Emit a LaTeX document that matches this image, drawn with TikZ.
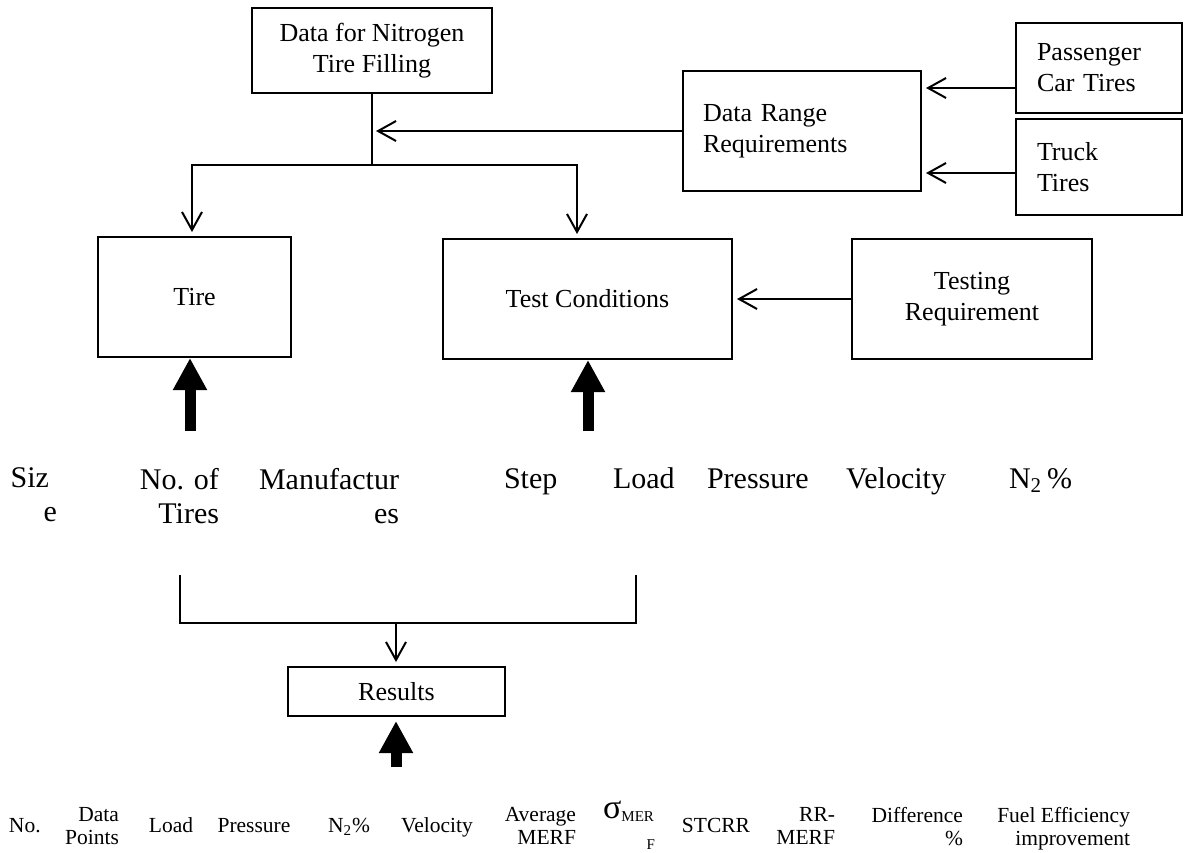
\documentclass[tikz,border=0pt]{standalone}
\usepackage{fontspec}
\setmainfont{Liberation Serif}
\usepackage{tikz}
\usetikzlibrary{positioning, arrows.meta}

\begin{document}
\begin{tikzpicture}[x=0.5pt, y=-0.5pt, line width=1pt]
        \tikzstyle{box}=[draw, rectangle, inner sep=0pt, align=center, font=\fontsize{13}{15.5}\selectfont];
        \tikzstyle{lbl}=[inner sep=0pt, font=\fontsize{15}{17}\selectfont];
        \tikzstyle{cell}=[inner sep=0pt, font=\fontsize{10.75}{11.5}\selectfont];
        \tikzstyle{arr}=[-{Straight Barb[length=9pt, width=10pt]}, shorten >=2pt];
        \tikzstyle{fat}=[line width=5.5pt, -{Triangle[length=16pt, width=16pt]}];
        \useasboundingbox (0,0) rectangle (1188,852);

        % boxes
        \node[box, minimum width=120pt, minimum height=42.5pt] (nitro) at (372,50.5) {Data for Nitrogen\\Tire Filling};
        \node[box, align=left, text width=99pt, inner xsep=10pt, minimum height=60pt] (range) at (802,131) {Data Range\\Requirements};
        \node[box, align=left, text width=62pt, inner xsep=10.5pt, minimum height=45pt] (pass) at (1099,68) {Passenger\\Car Tires};
        \node[box, align=left, text width=62pt, inner xsep=10.5pt, minimum height=48pt] (truck) at (1099,167) {Truck\\Tires};
        \node[box, minimum width=96.5pt, minimum height=60pt] (tire) at (194.5,297) {Tire};
        \node[box, minimum width=144.5pt, minimum height=60pt] (test) at (587.5,299) {Test Conditions};
        \node[box, minimum width=120pt, minimum height=60pt] (testing) at (972,299) {Testing\\Requirement};
        \node[box, minimum width=108.5pt, minimum height=24.5pt] (results) at (396.5,691.5) {Results};

        % tire and test inputs
        \node[lbl, align=right, anchor=north east] (size) at (58,467) {Siz\kern4pt\\e};
        \node[lbl, align=right, anchor=north east] (tirecount) at (220,467) {No. of\\Tires};
        \node[lbl, align=right, anchor=north east] (maker) at (400,467) {Manufactur\\es};
        \node[lbl, anchor=base west] (step) at (503,488) {Step};
        \node[lbl, anchor=base west] (load) at (612,488) {Load};
        \node[lbl, anchor=base west] (press) at (706,488) {Pressure};
        \node[lbl, anchor=base west] (velo) at (845,488) {Velocity};
        \node[lbl, anchor=base west] (ntwo) at (1008,488) {N\textsubscript{2}\,\%};

        % result columns
        \node[cell, anchor=base west] (num) at (8,832) {No.};
        \node[cell, align=right, anchor=north east] (points) at (120,806) {Data\\Points};
        \node[cell, anchor=base] (cload) at (171,832) {Load};
        \node[cell, anchor=base] (cpress) at (254,832) {Pressure};
        \node[cell, anchor=base] (cntwo) at (349,832) {N\textsubscript{2}\%};
        \node[cell, anchor=base] (cvelo) at (437,832) {Velocity};
        \node[cell, align=right, anchor=north east] (avg) at (577,806) {Average\\MERF};
        \node[cell, align=right, anchor=north east] (sigma) at (656,800) {{\fontsize{17}{17}\selectfont σ}\textsubscript{MER}\\[4pt]{\fontsize{7.5}{8}\selectfont F}};
        \node[cell, anchor=base] (stcrr) at (716,832) {STCRR};
        \node[cell, align=right, anchor=north east] (rr) at (836,806) {RR-\\MERF};
        \node[cell, align=right, anchor=north east] (diff) at (964,806) {Difference\\\%};
        \node[cell, align=right, anchor=north east] (fuel) at (1131,806) {Fuel Efficiency\\improvement};

        \coordinate (split) at (372,165);
        \coordinate (pa) at ([yshift=-10pt]pass.west);
        \coordinate (tr) at ([yshift=-3pt]truck.west);
        \coordinate (bl) at (180,575);
        \coordinate (br) at (636,575);
        \coordinate (merge) at (396,623);
        \coordinate (tirefeed) at (190,431);
        \coordinate (testfeed) at (588,431);
        \coordinate (resfeed) at (396,767);

        \draw (nitro.south) -- (split);
        \draw[arr] (split) -| ([xshift=-1.25pt]tire.north);
        \draw[arr] (split) -| ([xshift=-5.25pt]test.north);
        \path[arr]
        (range.west) edge (range.west -| nitro.south)
        (pa) edge (pa -| range.east)
        (tr) edge (tr -| range.east)
        (testing.west) edge (test.east);

        \draw (bl) |- (merge) -| (br);
        \draw[arr] (merge) -- (merge |- results.north);

        \draw[fat] (tirefeed) -- (tirefeed |- tire.south);
        \draw[fat] (testfeed) -- (testfeed |- test.south);
        \draw[fat, shorten >=2pt] (resfeed) -- (resfeed |- results.south);
      \end{tikzpicture}
\end{document}
